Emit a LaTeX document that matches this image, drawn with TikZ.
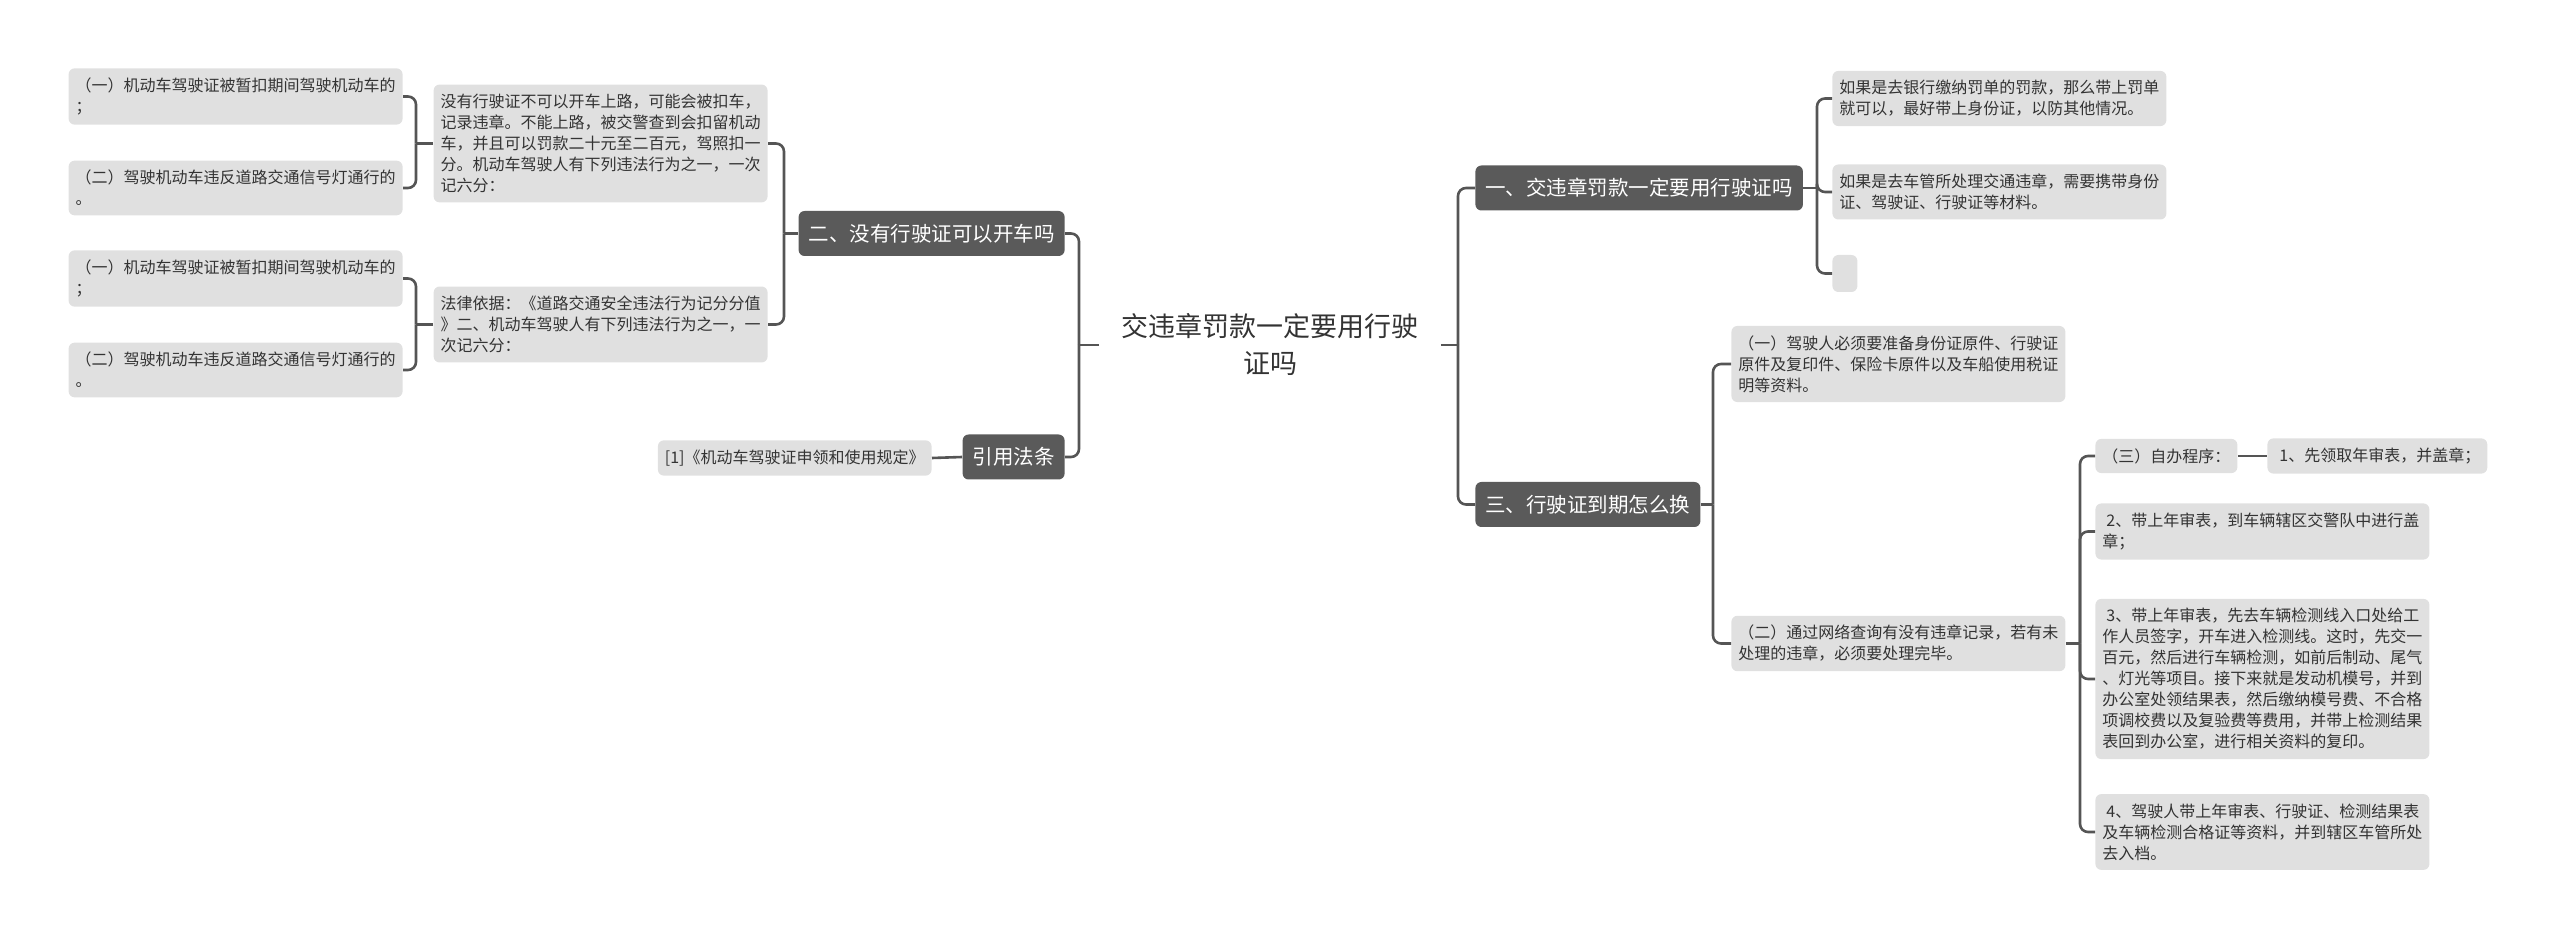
\documentclass[tikz,border=0pt]{standalone}
\usepackage{fontspec}
\usepackage{tikz}
\usetikzlibrary{calc}
\newfontfamily\cjk{Noto Sans CJK SC}
\definecolor{darkbox}{HTML}{5A5A5A}
\definecolor{lightbox}{HTML}{E0E0E0}
\definecolor{linecol}{HTML}{555555}
\definecolor{textcol}{HTML}{333333}

\begin{document}
\begin{tikzpicture}[x=0.5pt, y=-0.5pt,
        root_style/.style={align=center,text=textcol,font=\cjk\fontsize{13.5}{18.5}\selectfont,inner xsep=11pt,inner ysep=0pt},
        branch_style/.style={rectangle,rounded corners=3pt,fill=darkbox,text=white,font=\cjk\fontsize{10.25}{12}\selectfont,inner xsep=5pt,minimum height=22.5pt},
        leaf_style/.style={rectangle,rounded corners=3pt,fill=lightbox,text=textcol,font=\cjk\fontsize{8}{10.5}\selectfont,inner xsep=3.5pt,inner ysep=4.75pt,align=left},
        wide_leaf_style/.style={leaf_style,text width=160pt},
        edge_style/.style={draw=linecol,line width=1.3pt,rounded corners=4pt}]

        \useasboundingbox (0,0) rectangle (2560,940);

        \node [root_style](root) at (1270,345) {交违章罚款一定要用行驶\\证吗};

        \node [branch_style,anchor=east](br2) at (1065,233.5) {二、没有行驶证可以开车吗};

        \node [branch_style,anchor=east](br4) at (1065,457) {引用法条};

        \node [branch_style,anchor=west](br1) at (1475,188) {一、交违章罚款一定要用行驶证吗};

        \node [branch_style,anchor=west](br3) at (1475,504.5) {三、行驶证到期怎么换};

        \node [wide_leaf_style,anchor=east](p1) at (768,143.5) {没有行驶证不可以开车上路，可能会被扣车，\\记录违章。不能上路，被交警查到会扣留机动\\车，并且可以罚款二十元至二百元，驾照扣一\\分。机动车驾驶人有下列违法行为之一，一次\\记六分：};

        \node [wide_leaf_style,anchor=east](p2) at (768,324.5) {法律依据：《道路交通安全违法行为记分分值\\》二、机动车驾驶人有下列违法行为之一，一\\次记六分：};

        \node [wide_leaf_style,anchor=east](a1) at (403,96.5) {（一）机动车驾驶证被暂扣期间驾驶机动车的\\；};

        \node [wide_leaf_style,anchor=east](a2) at (403,188) {（二）驾驶机动车违反道路交通信号灯通行的\\。};

        \node [wide_leaf_style,anchor=east](b1) at (403,278.5) {（一）机动车驾驶证被暂扣期间驾驶机动车的\\；};

        \node [wide_leaf_style,anchor=east](b2) at (403,370) {（二）驾驶机动车违反道路交通信号灯通行的\\。};

        \node [leaf_style,anchor=east](ref) at (932,458) {[1]《机动车驾驶证申领和使用规定》};

        \node [wide_leaf_style,anchor=west](c1) at (1832,98.5) {如果是去银行缴纳罚单的罚款，那么带上罚单\\就可以，最好带上身份证，以防其他情况。};

        \node [wide_leaf_style,anchor=west](c2) at (1832,192) {如果是去车管所处理交通违章，需要携带身份\\证、驾驶证、行驶证等材料。};

        \node [leaf_style,anchor=west,minimum width=12.5pt,minimum height=18.5pt](c3) at (1832,273.5) {};

        \node [wide_leaf_style,anchor=west](d1) at (1731,364) {（一）驾驶人必须要准备身份证原件、行驶证\\原件及复印件、保险卡原件以及车船使用税证\\明等资料。};

        \node [wide_leaf_style,anchor=west](d2) at (1731,643.5) {（二）通过网络查询有没有违章记录，若有未\\处理的违章，必须要处理完毕。};

        \node [leaf_style,anchor=west](e1) at (2095,456) {（三）自办程序：};

        \node [leaf_style,anchor=west](f1) at (2267,456) {\hspace*{2.5pt}1、先领取年审表，并盖章；};

        \node [wide_leaf_style,anchor=west](e2) at (2095,531.5) {\hspace*{2pt}2、带上年审表，到车辆辖区交警队中进行盖\\章；};

        \node [wide_leaf_style,anchor=west](e3) at (2095,679) {\hspace*{2pt}3、带上年审表，先去车辆检测线入口处给工\\作人员签字，开车进入检测线。这时，先交一\\百元，然后进行车辆检测，如前后制动、尾气\\、灯光等项目。接下来就是发动机模号，并到\\办公室处领结果表，然后缴纳模号费、不合格\\项调校费以及复验费等费用，并带上检测结果\\表回到办公室，进行相关资料的复印。};

        \node [wide_leaf_style,anchor=west](e4) at (2095,832) {\hspace*{2pt}4、驾驶人带上年审表、行驶证、检测结果表\\及车辆检测合格证等资料，并到辖区车管所处\\去入档。};

        \coordinate (jl) at (1079,345);
        \coordinate (jr) at (1458,345);
        \coordinate (j2) at (784,233.5);
        \coordinate (ja) at (416,143.5);
        \coordinate (jb) at (416,324.5);
        \coordinate (j1) at (1817,188);
        \coordinate (j3) at (1713,504.5);
        \coordinate (jd) at (2080,643.5);

        \draw [edge_style] (root.west) -- (jl);

        \draw [edge_style] (root.east) -- (jr);

        \draw [edge_style] (jl) |- (br2.east);

        \draw [edge_style] (jl) |- (br4.east);

        \draw [edge_style] (br4.west) -- (ref.east);

        \draw [edge_style] (br2.west) -- (j2);

        \draw [edge_style] (j2) |- (p1.east);

        \draw [edge_style] (j2) |- (p2.east);

        \draw [edge_style] (p1.west) -- (ja);

        \draw [edge_style] (ja) |- (a1.east);

        \draw [edge_style] (ja) |- (a2.east);

        \draw [edge_style] (p2.west) -- (jb);

        \draw [edge_style] (jb) |- (b1.east);

        \draw [edge_style] (jb) |- (b2.east);

        \draw [edge_style] (jr) |- (br1.west);

        \draw [edge_style] (jr) |- (br3.west);

        \draw [edge_style] (br1.east) -- (j1);

        \draw [edge_style] (j1) |- (c1.west);

        \draw [edge_style] (j1) |- (c2.west);

        \draw [edge_style] (j1) |- (c3.west);

        \draw [edge_style] (br3.east) -- (j3);

        \draw [edge_style] (j3) |- (d1.west);

        \draw [edge_style] (j3) |- (d2.west);

        \draw [edge_style] (d2.east) -- (jd);

        \draw [edge_style] (jd) |- (e1.west);

        \draw [edge_style] (jd) |- (e2.west);

        \draw [edge_style] (jd) |- (e3.west);

        \draw [edge_style] (jd) |- (e4.west);

        \draw [edge_style] (e1.east) -- (f1.west);

        \end{tikzpicture}
\end{document}
